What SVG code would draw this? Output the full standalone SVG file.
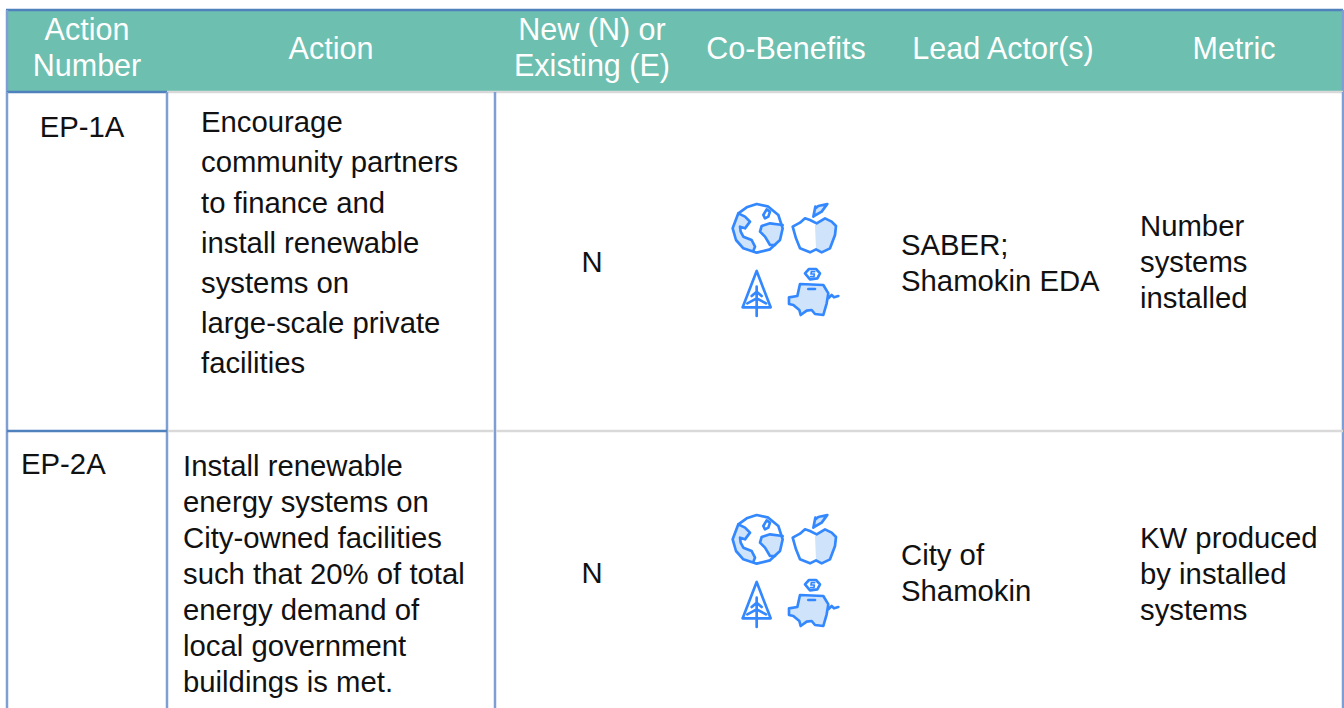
<svg xmlns="http://www.w3.org/2000/svg" width="1344" height="708" viewBox="0 0 1344 708">
<style>
text{font-family:"Liberation Sans",Arial,sans-serif;font-size:29.3px;fill:#111}
.h{fill:#fff;text-anchor:middle;font-size:30.5px}
.c{text-anchor:middle}
.b{stroke:#7f9fd4;stroke-width:2.5;fill:none}
.d{stroke:#4f81bd;stroke-width:2.5;fill:none}
.g{stroke:#d9d9d9;stroke-width:2.5;fill:none}
.i{fill:none;stroke:#3388ff;stroke-width:8;stroke-linejoin:round;stroke-linecap:round}
.s{stroke-width:5}
.f{fill:#cfe3fa;stroke:none}
</style>
<defs>
<g id="icons" transform="scale(.33333)">
<path class="f" d="M85 70L105 80 120 95 105 115 90 110 92 125 100 140 125 150 135 170 130 182 100 175 78 150 68 115zM218 105L180 100 155 108 150 125 165 140 180 165 195 165 210 150 218 115z"/>
<path class="i" d="M68 115L85 70 110 52 140 42 175 50 205 75 218 115 210 150 180 178 140 188 100 175 78 150z"/>
<path class="i" d="M85 70L105 80 120 95 105 115 90 110 92 125 100 140 125 150 135 170 130 182M218 105L180 100 155 108 150 125 165 140 180 165 195 165M160 75L170 58 180 65 175 80 165 85z"/>
<path class="f" d="M315 105L345 85 365 95 378 108 375 135 360 175 335 187 318 178zM316 55L352 42 335 65 312 78z"/>
<path class="i" d="M248 110L270 98 285 85 300 90 320 100 345 85 365 95 378 108 375 135 360 175 335 187 318 178 300 187 270 175 258 145z"/>
<path class="i" d="M310 80L316 50M312 78L335 65 352 42 325 48 316 55"/>
<path class="i" d="M140 243L98 352H182zM140 290V378M140 305L125 318M140 305L155 318M140 325L112 340M140 325L168 340"/>
<path class="f" d="M270 282L340 285 355 310 350 340 340 375 315 372 305 360 290 362 272 375 268 360 250 345 237 342 237 322 262 318z"/>
<path class="i" d="M270 282L340 285 355 310 350 340 340 375 315 372 305 360 290 362 272 375 268 360 250 345 237 342 237 322 262 318zM295 297H315M355 325L365 315 372 322 385 318"/>
<path class="i" d="M285 250L297 237H318L330 250 322 265 300 268z"/>
<path class="i s" d="M314 245H304L303 252H313L312 260H302"/>
</g>
</defs>

<g id="header">
<rect x="7" y="10" width="1336" height="81" fill="#6dbfb0"/>
<path class="d" d="M6 10H1343"/>
<path class="b" d="M7 10V92M1343 10V92"/>
<path class="d" d="M7 92H167"/>
<path class="g" d="M167 92H1343"/>
<text class="h" x="87" y="40">Action</text>
<text class="h" x="87" y="76">Number</text>
<text class="h" x="331" y="59">Action</text>
<text class="h" x="592" y="40">New (N) or</text>
<text class="h" x="592" y="76">Existing (E)</text>
<text class="h" x="786" y="59">Co-Benefits</text>
<text class="h" x="1003" y="59">Lead Actor(s)</text>
<text class="h" x="1234" y="59">Metric</text>
</g>

<g id="grid">
<path class="b" d="M7 92V708M167 92V708M495 92V708M1343 92V708"/>
<path class="d" d="M7 431H167"/>
<path class="g" d="M168 431H494M496 431H1343"/>
</g>

<g id="row-ep-1a">
<text class="c" x="82" y="137">EP-1A</text>
<text x="201" y="132">Encourage</text>
<text x="201" y="172">community partners</text>
<text x="201" y="213">to finance and</text>
<text x="201" y="253">install renewable</text>
<text x="201" y="293">systems on</text>
<text x="201" y="333">large-scale private</text>
<text x="201" y="373">facilities</text>
<text class="c" x="592" y="272">N</text>
<use href="#icons" x="710" y="190"/>
<text x="901" y="255">SABER;</text>
<text x="901" y="291">Shamokin EDA</text>
<text x="1140" y="236">Number</text>
<text x="1140" y="272">systems</text>
<text x="1140" y="308">installed</text>
</g>

<g id="row-ep-2a">
<text x="21" y="474">EP-2A</text>
<text x="183" y="476">Install renewable</text>
<text x="183" y="512">energy systems on</text>
<text x="183" y="548">City-owned facilities</text>
<text x="183" y="584">such that 20% of total</text>
<text x="183" y="620">energy demand of</text>
<text x="183" y="656">local government</text>
<text x="183" y="692">buildings is met.</text>
<text class="c" x="592" y="583">N</text>
<use href="#icons" x="710" y="501"/>
<text x="901" y="565">City of</text>
<text x="901" y="601">Shamokin</text>
<text x="1140" y="548">KW produced</text>
<text x="1140" y="584">by installed</text>
<text x="1140" y="620">systems</text>
</g>
</svg>
